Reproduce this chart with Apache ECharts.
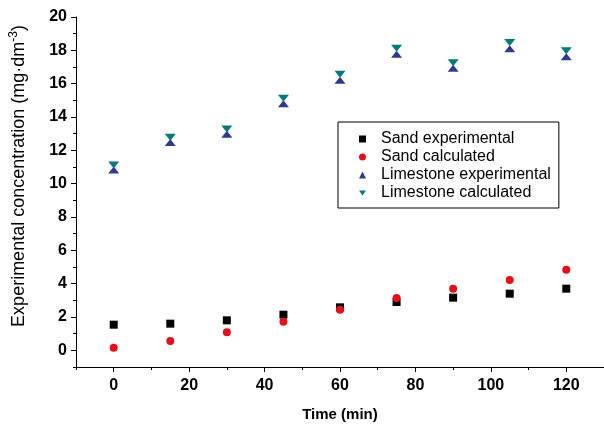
<!DOCTYPE html>
<html>
<head>
<meta charset="utf-8">
<script src="https://cdn.jsdelivr.net/npm/echarts@6/dist/echarts.min.js"></script>
<style>html,body{margin:0;padding:0;background:#fff}#c{width:604px;height:428px}</style>
</head>
<body>
<div id="c"></div>
<script>
var times = [0, 15, 30, 45, 60, 75, 90, 105, 120];
var sandExperimental = [1.54, 1.6, 1.8, 2.14, 2.58, 2.9, 3.16, 3.4, 3.7];
var sandCalculated = [0.16, 0.56, 1.08, 1.72, 2.44, 3.14, 3.7, 4.22, 4.84];
var limestoneExperimental = [10.82, 12.47, 12.97, 14.79, 16.2, 17.77, 16.92, 18.1, 17.62];
var limestoneCalculated = [11.12, 12.78, 13.28, 15.12, 16.56, 18.13, 17.26, 18.47, 17.98];
var seriesNames = ['Sand experimental', 'Sand calculated', 'Limestone experimental', 'Limestone calculated'];
var xMajorTicks = [0, 20, 40, 60, 80, 100, 120];
var xMinorTicks = [-10, 10, 30, 50, 70, 90, 110, 130];
var yMajorTicks = [0, 2, 4, 6, 8, 10, 12, 14, 16, 18, 20];
var yMinorTicks = [-1, 1, 3, 5, 7, 9, 11, 13, 15, 17, 19];

function pairs(ys) { return times.map(function (t, i) { return [t, ys[i]]; }); }

var FONT = '"Liberation Sans", Arial, sans-serif';
var downTri = 'path://M0,0L10,0L5,7Z';
var chart = echarts.init(document.getElementById('c'), null, {renderer: 'canvas'});

var axisLine = {show: true, onZero: false, lineStyle: {color: '#000', width: 1}};

chart.setOption({
  animation: false,
  backgroundColor: '#fff',
  grid: {left: 75.5, right: 0, top: 17, bottom: 61, containLabel: false},
  xAxis: [{
    type: 'value', min: -10, max: 130,
    axisLine: axisLine,
    splitLine: {show: false},
    axisTick: {show: true, inside: false, length: 5, customValues: xMajorTicks, lineStyle: {color: '#000'}},
    axisLabel: {show: true, customValues: xMajorTicks, margin: 11, color: '#000', fontSize: 16, fontWeight: 'bold', fontFamily: FONT},
    name: 'Time (min)', nameLocation: 'middle', nameGap: 40,
    nameTextStyle: {color: '#000', fontSize: 15, fontWeight: 'bold', fontFamily: FONT}
  }, {
    type: 'value', min: -10, max: 130, position: 'bottom',
    axisLine: {show: false, onZero: false}, splitLine: {show: false}, axisLabel: {show: false},
    axisTick: {show: true, length: 3, customValues: xMinorTicks, lineStyle: {color: '#000'}}
  }],
  yAxis: [{
    type: 'value', min: -1, max: 20,
    axisLine: axisLine,
    splitLine: {show: false},
    axisTick: {show: true, inside: false, length: 5, customValues: yMajorTicks, lineStyle: {color: '#000'}},
    axisLabel: {show: true, customValues: yMajorTicks, margin: 9, color: '#000', fontSize: 16, fontWeight: 'bold', fontFamily: FONT},
    name: 'Experimental concentration (mg·dm{sup|-3})', nameLocation: 'middle', nameGap: 46, nameRotate: 90,
    nameTextStyle: {color: '#000', fontSize: 18, fontFamily: FONT, padding: [0, 0, 0, 32],
      rich: {sup: {fontSize: 12, fontFamily: FONT, color: '#000', padding: [0, 0, 10, 0]}}}
  }, {
    type: 'value', min: -1, max: 20, position: 'left',
    axisLine: {show: false, onZero: false}, splitLine: {show: false}, axisLabel: {show: false},
    axisTick: {show: true, length: 3, customValues: yMinorTicks, lineStyle: {color: '#000'}}
  }],
  legend: {
    orient: 'vertical', left: 338, top: 122,
    data: [
      {name: seriesNames[0], icon: 'rect'},
      {name: seriesNames[1], icon: 'circle'},
      {name: seriesNames[2], icon: 'triangle'},
      {name: seriesNames[3], icon: downTri}
    ],
    itemWidth: 7, itemHeight: 7, itemGap: 2,
    padding: [9, 8, 7, 21],
    borderColor: '#000', borderWidth: 1, backgroundColor: '#fff',
    textStyle: {color: '#000', fontSize: 16, fontFamily: FONT, padding: [0, 0, 0, 10]}
  },
  series: [
    {name: seriesNames[0], type: 'scatter', data: pairs(sandExperimental), symbol: 'rect', symbolSize: 8, itemStyle: {color: '#000', opacity: 1}},
    {name: seriesNames[1], type: 'scatter', data: pairs(sandCalculated), symbol: 'circle', symbolSize: 8, itemStyle: {color: '#e3101b', opacity: 1}},
    {name: seriesNames[2], type: 'scatter', data: pairs(limestoneExperimental), symbol: 'triangle', symbolSize: [11, 7], itemStyle: {color: '#2e3a91', opacity: 1}},
    {name: seriesNames[3], type: 'scatter', data: pairs(limestoneCalculated), symbol: downTri, symbolSize: [11, 7], itemStyle: {color: '#007a7a', opacity: 1}}
  ]
});
</script>
</body>
</html>
